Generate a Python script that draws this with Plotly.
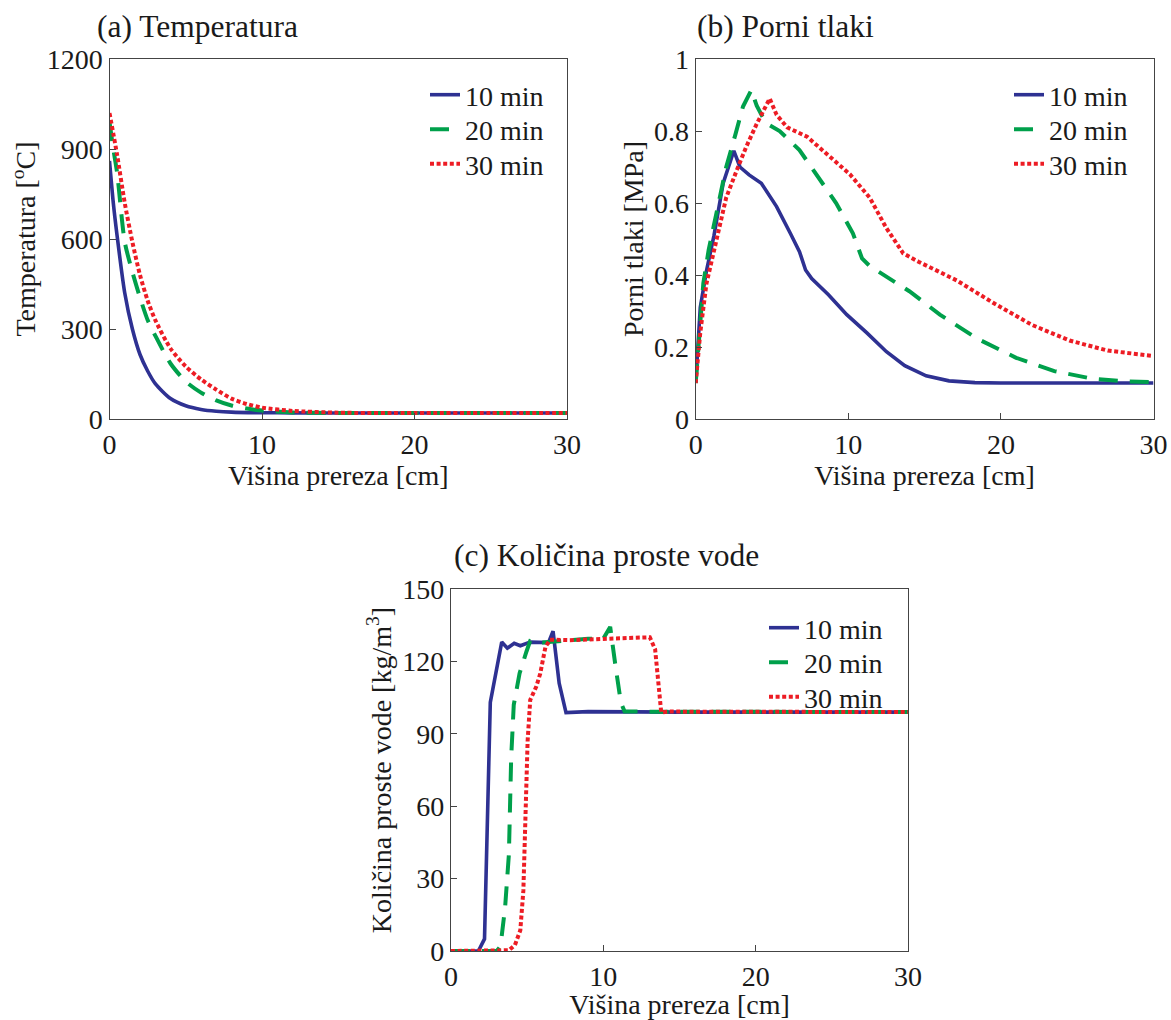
import plotly.graph_objects as go

W, H = 1171, 1020
FONT = "Liberation Serif"
BLUE = "#2e3192"
GREEN = "#00a04b"
RED = "#ed1c24"

series_names = ["10 min", "20 min", "30 min"]

# (a) Temperatura [°C]
temp_x_10 = [0, 0.25, 0.5, 1, 1.5, 2, 2.5, 3, 4, 5, 6, 7, 8, 10, 12, 15, 20, 25, 30]
temp_y_10 = [860, 720, 610, 420, 300, 215, 160, 118, 68, 44, 32, 26, 23, 21, 20.5, 20, 20, 20, 20]
temp_x_20 = [0, 0.25, 0.5, 1, 1.5, 2, 2.5, 3, 4, 5, 6, 7, 8, 9, 10, 12, 15, 20, 25, 30]
temp_y_20 = [990, 900, 820, 590, 490, 405, 330, 278, 185, 125, 88, 62, 45, 35, 28, 22, 20, 20, 20, 20]
temp_x_30 = [0, 0.5, 1, 1.5, 2, 2.5, 3, 4, 5, 6, 7, 8, 9, 10, 12, 15, 20, 25, 30]
temp_y_30 = [1020, 880, 720, 590, 480, 395, 330, 235, 175, 132, 98, 68, 50, 38, 27, 21, 20, 20, 20]

# (b) Porni tlaki [MPa]
pres_x_10 = [0, 0.3, 0.7, 1.2, 1.8, 2.5, 2.9, 3.5, 4.3, 5.3, 6.2, 6.8, 7.2, 7.6, 8.7, 9.9, 11.2, 12.5, 13.7, 15.1, 16.6, 18.3, 20, 25, 30]
pres_y_10 = [0.10, 0.31, 0.41, 0.51, 0.655, 0.745, 0.70, 0.678, 0.655, 0.59, 0.516, 0.465, 0.414, 0.39, 0.345, 0.29, 0.24, 0.187, 0.148, 0.12, 0.106, 0.101, 0.10, 0.10, 0.10]
pres_x_20 = [0, 0.5, 0.85, 1.4, 2.0, 2.6, 3.1, 3.65, 4.0, 4.6, 5.5, 6.8, 7.9, 9.2, 10.3, 10.9, 11.4, 12.7, 14, 16, 18.5, 21, 23.5, 26, 28, 30]
pres_y_20 = [0.10, 0.377, 0.47, 0.58, 0.70, 0.79, 0.868, 0.914, 0.87, 0.822, 0.80, 0.747, 0.68, 0.60, 0.516, 0.446, 0.425, 0.39, 0.355, 0.29, 0.222, 0.17, 0.133, 0.112, 0.105, 0.102]
pres_x_30 = [0, 0.3, 0.7, 1.4, 2.0, 2.7, 3.3, 4.0, 4.85, 5.3, 6.0, 7.3, 8.8, 10.1, 11.4, 12.5, 13.6, 14.6, 17.1, 19.6, 22, 24.5, 27, 30]
pres_y_30 = [0.10, 0.24, 0.375, 0.505, 0.615, 0.692, 0.755, 0.82, 0.89, 0.845, 0.81, 0.784, 0.73, 0.68, 0.615, 0.53, 0.46, 0.437, 0.385, 0.32, 0.262, 0.218, 0.19, 0.175]

# (c) Količina proste vode [kg/m3]
water_x_10 = [0, 1.8, 2.2, 2.58, 3.33, 3.7, 4.15, 4.55, 5.2, 6.4, 6.7, 7.1, 7.55, 9, 15, 30]
water_y_10 = [0, 0, 5, 103, 128, 125.5, 127.5, 126.5, 128, 127.8, 132.5, 111, 98.8, 99.2, 99, 99]
water_x_20 = [0, 3.0, 3.25, 3.55, 3.8, 3.95, 4.12, 4.5, 4.95, 5.2, 6.0, 7.8, 9.0, 10.0, 10.45, 10.8, 11.15, 11.4, 13, 30]
water_y_20 = [0, 0, 2, 18, 40, 80, 102, 115, 124, 128.5, 127.8, 128.8, 129.4, 129.4, 134.3, 118, 103, 99.2, 99.2, 99]
water_x_30 = [0, 3.5, 3.8, 4.2, 4.55, 4.75, 4.9, 5.03, 5.2, 5.6, 5.86, 6.2, 6.5, 7.8, 10.3, 13.05, 13.4, 13.68, 13.8, 14.3, 30]
water_y_30 = [0, 0, 0.3, 2.5, 8.6, 25, 60, 87, 104, 109.6, 115, 126, 129, 128.8, 129.4, 130, 125, 108.6, 98.9, 99.2, 99]

styles = [
    dict(color=BLUE, width=3.6, dash="solid"),
    dict(color=GREEN, width=4, dash="19px,12px"),
    dict(color=RED, width=4, dash="4px,2.6px"),
]

def px(v):
    return v / W

def py(v):
    return 1 - v / H

# legend placement (text-left x, first-row centre y) per panel, in pixels
legend_pos = [(466, 95), (1050, 95), (805, 628)]
ROW = 34.5

panels = [
    ("x", "y", "spline", [(temp_x_10, temp_y_10), (temp_x_20, temp_y_20), (temp_x_30, temp_y_30)]),
    ("x2", "y2", "linear", [(pres_x_10, pres_y_10), (pres_x_20, pres_y_20), (pres_x_30, pres_y_30)]),
    ("x3", "y3", "linear", [(water_x_10, water_y_10), (water_x_20, water_y_20), (water_x_30, water_y_30)]),
]

FS = 28
legend_font = dict(family=FONT, size=FS, color="#1a1a1a")

fig = go.Figure()
legends = {}
k = 0
for (xa, ya, shape, data), (lx, ly) in zip(panels, legend_pos):
    for i, (name, (xs, ys), st) in enumerate(zip(series_names, data, styles)):
        k += 1
        lname = "legend" if k == 1 else f"legend{k}"
        line = dict(st, shape=shape)
        if shape == "spline":
            line["smoothing"] = 0.7
        fig.add_trace(go.Scatter(x=xs, y=ys, mode="lines", name=name, line=line,
                                 xaxis=xa, yaxis=ya, legend=lname))
        legends[lname] = dict(x=px(lx - 41), y=py(ly + i * ROW), xanchor="left", yanchor="middle",
                              font=legend_font, bgcolor="rgba(0,0,0,0)", borderwidth=0,
                              itemclick=False, itemdoubleclick=False)

tickfont = dict(family=FONT, size=FS, color="#1a1a1a")
titlefont = dict(family=FONT, size=FS, color="#1a1a1a")

axis_common = dict(showgrid=False, zeroline=False, showline=True, mirror=True, automargin=False,
                   linecolor="#444444", linewidth=1.3, ticks="inside", ticklen=6,
                   tickcolor="#444444", tickwidth=1, tickfont=tickfont)

xdoms = {"a": [px(109.5), px(567)], "b": [px(695.7), px(1153.5)], "c": [px(451), px(908)]}
ydom_top = [py(419), py(59)]
ydom_bot = [py(951), py(589)]

xt = dict(text="Višina prereza [cm]", font=titlefont, standoff=4)
fig.update_layout(
    template="none",
    font=dict(family=FONT, size=FS, color="#1a1a1a"),
    xaxis=dict(domain=xdoms["a"], range=[0, 30], tickvals=[0, 10, 20, 30], anchor="y", title=xt, **axis_common),
    yaxis=dict(domain=ydom_top, range=[0, 1200], tickvals=[0, 300, 600, 900, 1200], anchor="x",
               title=dict(text="Temperatura [<sup>o</sup>C]", font=titlefont, standoff=2), **axis_common),
    xaxis2=dict(domain=xdoms["b"], range=[0, 30], tickvals=[0, 10, 20, 30], anchor="y2", title=xt, **axis_common),
    yaxis2=dict(domain=ydom_top, range=[0, 1], tickvals=[0, 0.2, 0.4, 0.6, 0.8, 1],
                ticktext=["0", "0.2", "0.4", "0.6", "0.8", "1"], anchor="x2",
                title=dict(text="Porni tlaki [MPa]", font=titlefont, standoff=2), **axis_common),
    xaxis3=dict(domain=xdoms["c"], range=[0, 30], tickvals=[0, 10, 20, 30], anchor="y3", title=xt, **axis_common),
    yaxis3=dict(domain=ydom_bot, range=[0, 150], tickvals=[0, 30, 60, 90, 120, 150], anchor="x3",
                title=dict(text="Količina proste vode [kg/m<sup>3</sup>]", font=titlefont, standoff=2), **axis_common),
    **legends,
)

titles = [("(a) Temperatura", 95, 26), ("(b) Porni tlaki", 695, 26), ("(c) Količina proste vode", 452, 555)]
for t, x0, y0 in titles:
    fig.add_annotation(text=t, xref="paper", yref="paper", x=px(x0), y=py(y0),
                       xanchor="left", yanchor="middle", showarrow=False,
                       font=dict(family=FONT, size=31.5, color="#1a1a1a"))

fig.update_layout(width=W, height=H, margin=dict(l=0, r=0, t=0, b=0, pad=0),
                  paper_bgcolor="white", plot_bgcolor="white", showlegend=True)

fig.write_html("out.html")
